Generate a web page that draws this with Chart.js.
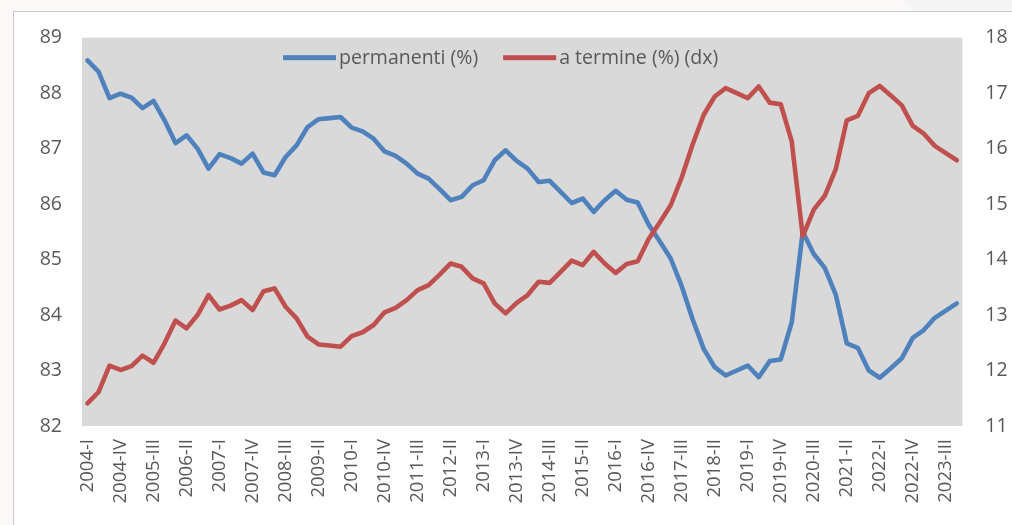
<!DOCTYPE html>
<html>
<head>
<meta charset="utf-8">
<script src="https://cdn.jsdelivr.net/npm/chart.js@4.4.1/dist/chart.umd.min.js"></script>
<style>
  html, body { margin: 0; padding: 0; width: 1012px; height: 525px; overflow: hidden; background: #fcf8f7; }
  #wedge { position: absolute; left: 0; top: 0; width: 1012px; height: 12px; background: #f5f5f5;
           clip-path: polygon(903px 0, 1012px 0, 1012px 12px, 913px 12px); }
  #box { position: absolute; left: 13px; top: 11px; width: 1100px; height: 600px; background: #ffffff;
         border: 1px solid #c9c9c9; }
  #c { position: absolute; left: 0; top: 0; }
</style>
</head>
<body>
<div id="wedge"></div>
<div id="box"></div>
<canvas id="c" width="1012" height="525"></canvas>
<script>
const categories = [
  "2004-I","2004-II","2004-III","2004-IV","2005-I","2005-II","2005-III","2005-IV",
  "2006-I","2006-II","2006-III","2006-IV","2007-I","2007-II","2007-III","2007-IV",
  "2008-I","2008-II","2008-III","2008-IV","2009-I","2009-II","2009-III","2009-IV",
  "2010-I","2010-II","2010-III","2010-IV","2011-I","2011-II","2011-III","2011-IV",
  "2012-I","2012-II","2012-III","2012-IV","2013-I","2013-II","2013-III","2013-IV",
  "2014-I","2014-II","2014-III","2014-IV","2015-I","2015-II","2015-III","2015-IV",
  "2016-I","2016-II","2016-III","2016-IV","2017-I","2017-II","2017-III","2017-IV",
  "2018-I","2018-II","2018-III","2018-IV","2019-I","2019-II","2019-III","2019-IV",
  "2020-I","2020-II","2020-III","2020-IV","2021-I","2021-II","2021-III","2021-IV",
  "2022-I","2022-II","2022-III","2022-IV","2023-I","2023-II","2023-III","2023-IV"
];

const permanenti = [
  88.59, 88.39, 87.91, 87.99, 87.92, 87.73, 87.86, 87.51,
  87.10, 87.24, 87.00, 86.64, 86.90, 86.83, 86.73, 86.91,
  86.57, 86.52, 86.85, 87.06, 87.39, 87.53, 87.55, 87.57,
  87.38, 87.31, 87.18, 86.95, 86.87, 86.73, 86.55, 86.46,
  86.27, 86.07, 86.13, 86.34, 86.43, 86.79, 86.97, 86.78,
  86.64, 86.40, 86.42, 86.22, 86.02, 86.10, 85.86, 86.07,
  86.24, 86.08, 86.03, 85.63, 85.33, 85.02, 84.52, 83.92,
  83.39, 83.06, 82.91, 83.00, 83.09, 82.88, 83.17, 83.20,
  83.87, 85.50, 85.10, 84.85, 84.37, 83.49, 83.41, 83.00,
  82.87, 83.04, 83.22, 83.59, 83.73, 83.95, 84.08, 84.21
];

const aTermine = [
  11.41, 11.61, 12.09, 12.01, 12.08, 12.27, 12.14, 12.49,
  12.90, 12.76, 13.00, 13.36, 13.10, 13.17, 13.27, 13.09,
  13.43, 13.48, 13.15, 12.94, 12.61, 12.47, 12.45, 12.43,
  12.62, 12.69, 12.82, 13.05, 13.13, 13.27, 13.45, 13.54,
  13.73, 13.93, 13.87, 13.66, 13.57, 13.21, 13.03, 13.22,
  13.36, 13.60, 13.58, 13.78, 13.98, 13.90, 14.14, 13.93,
  13.76, 13.92, 13.97, 14.37, 14.67, 14.98, 15.48, 16.08,
  16.61, 16.94, 17.09, 17.00, 16.91, 17.12, 16.83, 16.80,
  16.13, 14.42, 14.90, 15.15, 15.63, 16.51, 16.59, 17.00,
  17.13, 16.96, 16.78, 16.41, 16.27, 16.05, 15.92, 15.79
];

const seriesNames = ["permanenti (%)", "a termine (%) (dx)"];
const leftTicks = [82, 89];
const rightTicks = [11, 18];

const BLUE = "#4f81bd";
const RED = "#c0504d";
const TXT = "#595959";
const FONT = "'Open Sans', 'Liberation Sans', sans-serif";

const plotBg = {
  id: "plotBg",
  beforeDraw(chart) {
    const a = chart.chartArea, ctx = chart.ctx;
    ctx.save();
    ctx.fillStyle = "#d9d9d9";
    ctx.fillRect(a.left, a.top, a.right - a.left, a.bottom - a.top);
    ctx.restore();
  }
};

const innerLegend = {
  id: "innerLegend",
  afterDraw(chart) {
    const a = chart.chartArea, ctx = chart.ctx;
    ctx.save();
    ctx.font = "19.5px " + FONT;
    ctx.textBaseline = "middle";
    ctx.textAlign = "left";
    const y = a.top + 20;
    let x = a.left + 201;
    const colors = [BLUE, RED];
    seriesNames.forEach((name, i) => {
      ctx.fillStyle = colors[i];
      ctx.fillRect(x, y - 2.5, 53, 5);
      x += 56;
      ctx.fillStyle = TXT;
      ctx.fillText(name, x, y + 1);
      x += ctx.measureText(name).width + 25;
    });
    ctx.restore();
  }
};

new Chart(document.getElementById("c"), {
  type: "line",
  data: {
    labels: categories,
    datasets: [
      { label: seriesNames[0], data: permanenti, yAxisID: "y", borderColor: BLUE, backgroundColor: BLUE,
        borderWidth: 4.6, pointRadius: 0, tension: 0, borderJoinStyle: "round", borderCapStyle: "round", order: 1 },
      { label: seriesNames[1], data: aTermine, yAxisID: "y2", borderColor: RED, backgroundColor: RED,
        borderWidth: 4.6, pointRadius: 0, tension: 0, borderJoinStyle: "round", borderCapStyle: "round", order: 0 }
    ]
  },
  options: {
    responsive: false,
    animation: false,
    devicePixelRatio: 1,
    layout: { padding: { top: 37.7, left: 0, right: 0, bottom: 0 } },
    plugins: { legend: { display: false }, tooltip: { enabled: false } },
    scales: {
      x: {
        type: "category",
        offset: true,
        grid: { display: false, drawTicks: false },
        border: { display: false },
        ticks: {
          autoSkip: false, maxRotation: 90, minRotation: 90, padding: 13,
          color: TXT, font: { family: FONT, size: 18.5 },
          callback: (v, i) => (i % 3 === 0 ? categories[i] : null)
        },
        afterFit: (s) => { s.height = 99; }
      },
      y: {
        position: "left", min: leftTicks[0], max: leftTicks[1],
        grid: { display: false, drawTicks: false },
        border: { display: false },
        ticks: { stepSize: 1, padding: 20, color: TXT, font: { family: FONT, size: 19.5 } },
        afterFit: (s) => { s.width = 82; }
      },
      y2: {
        position: "right", min: rightTicks[0], max: rightTicks[1],
        grid: { display: false, drawTicks: false },
        border: { display: false },
        ticks: { stepSize: 1, padding: 23, color: TXT, font: { family: FONT, size: 19.5 } },
        afterFit: (s) => { s.width = 49.7; }
      }
    }
  },
  plugins: [plotBg, innerLegend]
});
</script>
</body>
</html>
